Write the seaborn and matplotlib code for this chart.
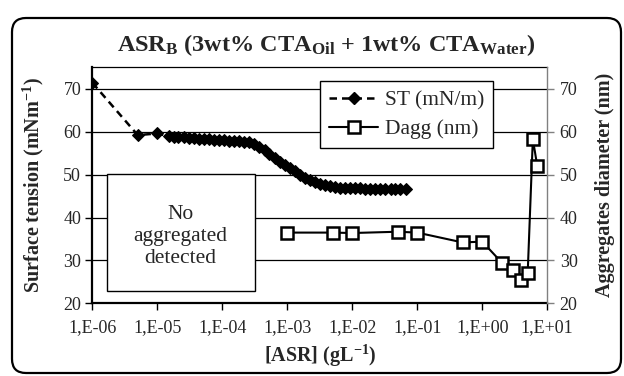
import matplotlib
matplotlib.use("Agg")
import matplotlib.pyplot as plt
import pandas as pd
import seaborn as sns
from matplotlib.lines import Line2D
from matplotlib.patches import Rectangle, FancyBboxPatch
from matplotlib.transforms import IdentityTransform
from matplotlib.ticker import FixedLocator, FixedFormatter

# Surface tension (mN/m) versus ASR concentration (g/L)
st_conc = [1.0e-6, 5.0e-6, 1.0e-5,
           1.5e-5, 1.8e-5, 2.1e-5, 2.6e-5, 3.1e-5, 3.7e-5, 4.4e-5, 5.2e-5,
           6.3e-5, 7.5e-5, 9.0e-5, 1.07e-4, 1.28e-4, 1.53e-4, 1.83e-4, 2.19e-4,
           2.6e-4, 3.1e-4, 3.7e-4, 4.5e-4, 5.3e-4, 6.4e-4, 7.6e-4, 9.1e-4,
           1.09e-3, 1.30e-3, 1.55e-3, 1.86e-3, 2.2e-3, 2.7e-3, 3.2e-3, 3.8e-3,
           4.5e-3, 5.4e-3, 6.5e-3, 7.8e-3, 9.3e-3, 1.11e-2, 1.33e-2, 1.59e-2,
           1.90e-2, 2.27e-2, 2.7e-2, 3.2e-2, 3.9e-2, 4.6e-2, 5.5e-2, 6.6e-2]
st_value = [71.4, 59.2, 59.6,
            58.9, 58.8, 58.8, 58.7, 58.6, 58.5, 58.4, 58.3,
            58.2, 58.1, 58.0, 58.0, 57.9, 57.9, 57.8, 57.7,
            57.5, 57.1, 56.5, 55.7, 54.8, 53.9, 53.0, 52.2,
            51.5, 50.8, 50.0, 49.3, 48.7, 48.2, 47.8, 47.5,
            47.3, 47.1, 47.0, 46.9, 46.9, 46.8, 46.8, 46.7,
            46.7, 46.7, 46.6, 46.6, 46.6, 46.6, 46.6, 46.6]

# Aggregate diameter (nm) versus ASR concentration (g/L)
dagg_conc = [1.0e-3, 5.0e-3, 1.0e-2, 5.0e-2, 1.0e-1, 0.5, 1.0, 2.0, 3.0, 4.0, 5.0, 6.0, 7.0]
dagg_value = [36.5, 36.5, 36.4, 36.7, 36.5, 34.2, 34.4, 29.5, 27.9, 25.4, 27.0, 58.3, 52.1]

x_ticks = [1e-6, 1e-5, 1e-4, 1e-3, 1e-2, 1e-1, 1e0, 1e1]
x_tick_labels = ["1,E-06", "1,E-05", "1,E-04", "1,E-03", "1,E-02", "1,E-01", "1,E+00", "1,E+01"]
y_ticks = [20, 30, 40, 50, 60, 70]
y_tick_labels = ["20", "30", "40", "50", "60", "70"]

st_df = pd.DataFrame({"conc": st_conc, "st": st_value})
dagg_df = pd.DataFrame({"conc": dagg_conc, "dagg": dagg_value})

sns.set_theme(style="white")
plt.rcParams["font.family"] = ["Liberation Serif", "DejaVu Serif"]
plt.rcParams["mathtext.fontset"] = "custom"
plt.rcParams["mathtext.rm"] = "Liberation Serif"
plt.rcParams["mathtext.bf"] = "Liberation Serif:bold"
plt.rcParams["mathtext.default"] = "bf"

fig = plt.figure(figsize=(6.24, 3.76), dpi=100)
fig.patch.set_facecolor("white")
ax = fig.add_axes([0.148, 0.193, 0.729, 0.628])
ax2 = ax.twinx()

# Rounded outer frame
frame = FancyBboxPatch((12, 3), 609, 355, boxstyle="round,pad=0,rounding_size=14",
                       transform=IdentityTransform(), facecolor="none",
                       edgecolor="black", linewidth=1.6, zorder=0)
fig.add_artist(frame)

sns.lineplot(data=st_df, x="conc", y="st", ax=ax, sort=False, estimator=None,
             color="black", linestyle=(0, (3, 2)), linewidth=1.8,
             marker="D", markersize=6.5, markerfacecolor="black",
             markeredgecolor="black", zorder=5)
sns.lineplot(data=dagg_df, x="conc", y="dagg", ax=ax2, sort=False, estimator=None,
             color="black", linewidth=1.5, marker="s", markersize=8,
             markerfacecolor="white", markeredgecolor="black",
             markeredgewidth=1.8, zorder=5)

for a in (ax, ax2):
    a.set_xscale("log")
    a.set_xlim(1e-6, 1e1)
    a.set_ylim(20, 75)
    a.set_xlabel("")
    a.set_ylabel("")

ax.xaxis.set_major_locator(FixedLocator(x_ticks))
ax.xaxis.set_major_formatter(FixedFormatter(x_tick_labels))
ax.xaxis.set_minor_locator(FixedLocator([]))
ax.yaxis.set_major_locator(FixedLocator(y_ticks))
ax.yaxis.set_major_formatter(FixedFormatter(y_tick_labels))
ax2.yaxis.set_major_locator(FixedLocator(y_ticks))
ax2.yaxis.set_major_formatter(FixedFormatter(y_tick_labels))

ax.grid(False)
ax2.grid(False)
for yv in y_ticks[1:]:
    ax.axhline(yv, color="black", linewidth=0.9, zorder=1)

ax.tick_params(axis="x", which="major", direction="out", length=5, width=1,
               color="black", labelsize=13, pad=6, bottom=True)
ax.tick_params(axis="y", which="major", direction="out", length=5, width=1,
               color="black", labelsize=13, pad=3, left=True)
ax2.tick_params(axis="y", which="major", direction="out", length=5, width=1,
                color="#808080", labelsize=13, pad=4, right=True)

for side in ("left", "bottom"):
    ax.spines[side].set_color("black")
    ax.spines[side].set_linewidth(1.6)
ax.spines["top"].set_color("black")
ax.spines["top"].set_linewidth(0.9)
ax.spines["right"].set_visible(False)
ax2.spines["right"].set_color("#808080")
ax2.spines["right"].set_linewidth(1.0)
for side in ("left", "top", "bottom"):
    ax2.spines[side].set_visible(False)

# Region where no aggregates were measured
ax.add_patch(Rectangle((0.032, 0.052), 0.3255, 0.496, transform=ax.transAxes,
                       facecolor="white", edgecolor="black", linewidth=1.0, zorder=3))
ax.text(0.193, 0.285, "No\naggregated\ndetected", transform=ax.transAxes,
        ha="center", va="center", fontsize=15.5, linespacing=1.22, zorder=4)

ax.set_ylabel("Surface tension (mNm$^{-1}$)", fontsize=14.5, fontweight="bold")
ax.yaxis.set_label_coords(-0.102, 0.5)
ax2.set_ylabel("Aggregates diameter (nm)", fontsize=14.5, fontweight="bold")
ax2.yaxis.set_label_coords(1.106, 0.5)
ax.set_xlabel("[ASR] (gL$^{-1}$)", fontsize=14.5, fontweight="bold")
ax.xaxis.set_label_coords(0.5, -0.165)

fig.text(0.522, 1 - 45 / 376,
         "ASR$_{B}$ (3wt% CTA$_{Oil}$ + 1wt% CTA$_{Water}$)",
         ha="center", va="center", fontsize=17.5, fontweight="bold")

handles = [
    Line2D([], [], color="black", linestyle=(0, (3, 2)), linewidth=1.8,
           marker="D", markersize=6.5, markerfacecolor="black"),
    Line2D([], [], color="black", linewidth=1.5, marker="s", markersize=8,
           markerfacecolor="white", markeredgecolor="black", markeredgewidth=1.8),
]
leg = ax2.legend(handles, ["ST (mN/m)", "Dagg (nm)"], loc="upper left",
                 bbox_to_anchor=(0.5, 0.942), borderaxespad=0, fontsize=15.5,
                 frameon=True, fancybox=False, edgecolor="black",
                 handlelength=2.3, handletextpad=0.3, labelspacing=0.42,
                 borderpad=0.42, framealpha=1)
leg.get_frame().set_linewidth(1.0)
leg.set_zorder(10)

fig.savefig("out.png", dpi=100, facecolor="white")
